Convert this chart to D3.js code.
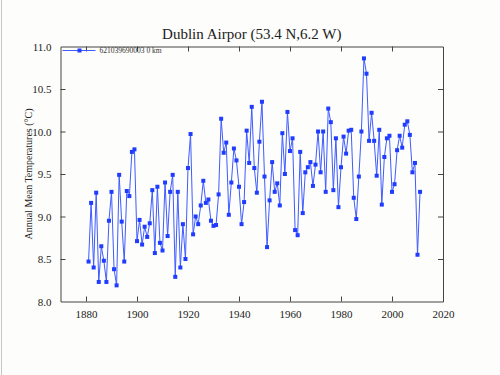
<!DOCTYPE html>
<html>

<head>
  <title>Dublin Airport</title>
  <script src="https://cdn.jsdelivr.net/npm/d3@7"></script>
  <style>
    body { margin: 0; background: #fdfdfb; }
  </style>
</head>

<body>
  <svg width="500" height="375" id="mainsvg"></svg>

  <script>
    // data, station 621039690003
    const firstYear = 1881;
    const temps = [
      8.47, 9.16, 8.40, 9.28, 8.23, 8.65, 8.48, 8.23, 8.95, 9.29,   // 1881-1890
      8.38, 8.19, 9.49, 8.94, 8.47, 9.30, 9.24, 9.76, 9.79, 8.71,   // 1891-1900
      8.96, 8.67, 8.88, 8.76, 8.92, 9.31, 8.57, 9.35, 8.69, 8.60,   // 1901-1910
      9.40, 8.77, 9.29, 9.49, 8.29, 9.29, 8.40, 8.91, 8.50, 9.57,   // 1911-1920
      9.97, 8.79, 9.00, 8.91, 9.13, 9.42, 9.16, 9.20, 8.95, 8.89,   // 1921-1930
      8.90, 9.26, 10.15, 9.75, 9.87, 9.02, 9.40, 9.80, 9.66, 9.35,  // 1931-1940
      8.91, 9.17, 10.01, 9.63, 10.29, 9.57, 9.28, 9.88, 10.35, 9.47, // 1941-1950
      8.64, 9.19, 9.64, 9.29, 9.39, 9.13, 9.98, 9.50, 10.23, 9.77,  // 1951-1960
      9.92, 8.84, 8.78, 9.76, 9.04, 9.52, 9.58, 9.64, 9.36, 9.61,   // 1961-1970
      10.00, 9.52, 10.00, 9.29, 10.27, 10.11, 9.31, 9.92, 9.11, 9.58, // 1971-1980
      9.94, 9.74, 10.01, 10.02, 9.22, 8.97, 9.47, 10.00, 10.86, 10.68, // 1981-1990
      9.89, 10.22, 9.89, 9.48, 10.02, 9.14, 9.70, 9.92, 9.95, 9.29, // 1991-2000
      9.38, 9.78, 9.95, 9.81, 10.08, 10.12, 9.96, 9.52, 9.63, 8.55, // 2001-2010
      9.29                                                          // 2011
    ];
    const years = temps.map((t, i) => firstYear + i);
    const xTicks = [1880, 1900, 1920, 1940, 1960, 1980, 2000, 2020];
    const yTicks = [8.0, 8.5, 9.0, 9.5, 10.0, 10.5, 11.0];

    const data = years.map((y, i) => ({ year: y, value: temps[i] }));

    const svg = d3.select('#mainsvg');
    const margin = { top: 46.5, right: 57, bottom: 73.5, left: 60.5 };
    const width = +svg.attr('width');
    const height = +svg.attr('height');
    const innerWidth = width - margin.left - margin.right;
    const innerHeight = height - margin.top - margin.bottom;

    // thin grey edge on the left of the picture
    svg.append('line').attr('x1', 1.5).attr('x2', 1.5).attr('y1', 0).attr('y2', height)
      .attr('stroke', '#c8c8c8').attr('stroke-width', 1);

    const g = svg.append('g')
      .attr('transform', `translate(${margin.left}, ${margin.top})`);

    const xScale = d3.scaleLinear().domain([1870, 2020]).range([0, innerWidth]);
    const yScale = d3.scaleLinear().domain([8, 11]).range([innerHeight, 0]);

    const serif = '"Liberation Serif", "DejaVu Serif", serif';
    const tickLen = 5;

    // axes with ticks pointing inwards
    const xAxis = d3.axisBottom(xScale).tickValues(xTicks).tickFormat(d3.format('d'))
      .tickSizeInner(-tickLen).tickSizeOuter(0).tickPadding(tickLen + 4);
    const yAxis = d3.axisLeft(yScale).tickValues(yTicks).tickFormat(d3.format('.1f'))
      .tickSizeInner(-tickLen).tickSizeOuter(0).tickPadding(tickLen + 4);
    const xTop = d3.axisTop(xScale).tickValues(xTicks.filter(d => d < 2020))
      .tickSizeInner(-tickLen).tickSizeOuter(0);
    const yRight = d3.axisRight(yScale).tickValues(yTicks.filter(d => d > 8 && d < 11))
      .tickSizeInner(-tickLen).tickSizeOuter(0);

    const bottomG = g.append('g').attr('transform', `translate(0, ${innerHeight})`).call(xAxis);
    const leftG = g.append('g').call(yAxis);
    const topG = g.append('g').call(xTop);
    const rightG = g.append('g').attr('transform', `translate(${innerWidth}, 0)`).call(yRight);
    topG.selectAll('.tick text').remove(); // frame ticks only, no labels
    rightG.selectAll('.tick text').remove();

    [bottomG, leftG, topG, rightG].forEach(a => {
      a.select('.domain').attr('stroke', '#444');
      a.selectAll('.tick line').attr('stroke', '#444');
      a.selectAll('.tick text').attr('font-family', serif).attr('font-size', 11).attr('fill', '#222');
    });
    // no marks where the ticks meet the frame corners
    bottomG.selectAll('.tick').filter(d => d === 2020).select('line').remove();
    leftG.selectAll('.tick').filter(d => d === 8 || d === 11).select('line').remove();

    // series
    const line = d3.line().x(d => xScale(d.year)).y(d => yScale(d.value));
    g.append('path').datum(data)
      .attr('d', line)
      .attr('fill', 'none')
      .attr('stroke', '#3f5cff')
      .attr('stroke-width', 1);

    g.selectAll('.pt').data(data).enter().append('rect')
      .attr('class', 'pt')
      .attr('x', d => xScale(d.year) - 2)
      .attr('y', d => yScale(d.value) - 2)
      .attr('width', 4).attr('height', 4)
      .attr('fill', '#1f3cff');

    // legend
    const lg = g.append('g').attr('transform', 'translate(2, 4)');
    lg.append('line').attr('x1', 0).attr('x2', 33).attr('y1', 0).attr('y2', 0)
      .attr('stroke', '#3f5cff').attr('stroke-width', 1);
    lg.append('rect').attr('x', 15).attr('y', -2).attr('width', 4).attr('height', 4).attr('fill', '#1f3cff');
    lg.append('text').text('621039690003  0 km').attr('x', 37).attr('y', 2.5)
      .attr('font-family', serif).attr('font-size', 7.5).attr('fill', '#333');

    // titles
    svg.append('text').text('Dublin Airpor (53.4 N,6.2 W)')
      .attr('x', margin.left + innerWidth / 2).attr('y', 39)
      .attr('text-anchor', 'middle')
      .attr('font-family', serif).attr('font-size', 15).attr('fill', '#222');

    svg.append('text').text('Annual Mean Temperatures (°C)')
      .attr('transform', `translate(32, ${margin.top + innerHeight / 2}) rotate(-90)`)
      .attr('text-anchor', 'middle')
      .attr('font-family', serif).attr('font-size', 10).attr('fill', '#222');
  </script>
</body>

</html>
